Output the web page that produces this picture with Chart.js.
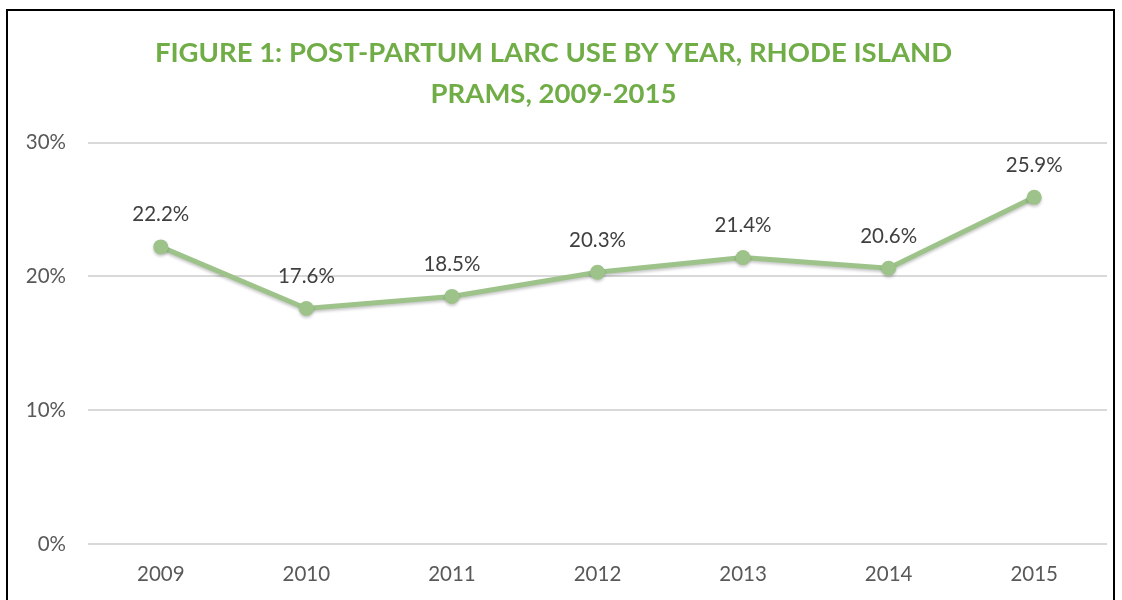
<!DOCTYPE html>
<html>
<head>
<meta charset="utf-8">
<script src="https://cdn.jsdelivr.net/npm/chart.js@4"></script>
<style>
  body { margin: 0; background: #fff; overflow: hidden; }
  #frame { position: absolute; left: 6px; top: 9px; width: 1109px; height: 700px; border: 2px solid #000; box-sizing: border-box; }
  #myChart { position: absolute; left: 0; top: 0; }
</style>
</head>
<body>
<div id="frame"></div>
<canvas id="myChart" width="1122" height="600"></canvas>
<script>
const years = ['2009', '2010', '2011', '2012', '2013', '2014', '2015']
const larcUse = [22.2, 17.6, 18.5, 20.3, 21.4, 20.6, 25.9]
const yTicks = [0, 10, 20, 30]

const font = 'Lato, "Open Sans", sans-serif'

// labels above each point
const valueLabels = {
    id: 'valueLabels',
    afterDatasetsDraw(chart) {
        const ctx = chart.ctx
        const meta = chart.getDatasetMeta(0)
        ctx.save()
        ctx.font = '20.5px ' + font
        ctx.fillStyle = '#404040'
        ctx.textAlign = 'center'
        ctx.textBaseline = 'middle'
        meta.data.forEach((pt, i) => {
            ctx.fillText(larcUse[i].toFixed(1) + '%', pt.x, pt.y - 32)
        })
        ctx.restore()
    }
}

// soft shadow under the line, like the original
const lineShadow = {
    id: 'lineShadow',
    beforeDatasetsDraw(chart) {
        const ctx = chart.ctx
        ctx.save()
        ctx.shadowColor = 'rgba(0, 0, 0, 0.22)'
        ctx.shadowBlur = 3
        ctx.shadowOffsetY = 2
    },
    afterDatasetsDraw(chart) {
        chart.ctx.restore()
    }
}

const config = {
    type: 'line',
    data: {
        labels: years,
        datasets: [{
            data: larcUse,
            borderColor: '#9DC38A',
            backgroundColor: '#9DC38A',
            borderWidth: 5,
            pointRadius: 7.5,
            pointHoverRadius: 7.5,
            pointBorderWidth: 0,
            tension: 0
        }]
    },
    options: {
        responsive: false,
        animation: false,
        layout: {
            padding: { top: 32, right: 15, bottom: 0, left: 0 }
        },
        plugins: {
            legend: { display: false },
            tooltip: { enabled: false },
            title: {
                display: true,
                text: ['FIGURE 1: POST-PARTUM LARC USE BY YEAR, RHODE ISLAND', 'PRAMS, 2009-2015'],
                color: '#70AD47',
                font: { family: font, size: 27.5, weight: 'bold', lineHeight: 1.5 },
                padding: { top: 0, bottom: 28 }
            }
        },
        scales: {
            x: {
                offset: true,
                grid: { display: false, drawTicks: false },
                border: { display: false },
                ticks: {
                    color: '#595959',
                    font: { family: font, size: 20.5 },
                    padding: 18
                },
                afterFit(scale) { scale.height = 56 }
            },
            y: {
                min: 0,
                max: 30,
                afterBuildTicks(scale) { scale.ticks = yTicks.map(v => ({ value: v })) },
                grid: { color: '#D9D9D9', lineWidth: 2, drawTicks: false },
                border: { display: false },
                ticks: {
                    color: '#595959',
                    font: { family: font, size: 20.5 },
                    padding: 22,
                    callback: v => v + '%'
                },
                afterFit(scale) { scale.width = 88 }
            }
        }
    },
    plugins: [lineShadow, valueLabels]
}

new Chart(document.getElementById('myChart'), config)
</script>
</body>
</html>
